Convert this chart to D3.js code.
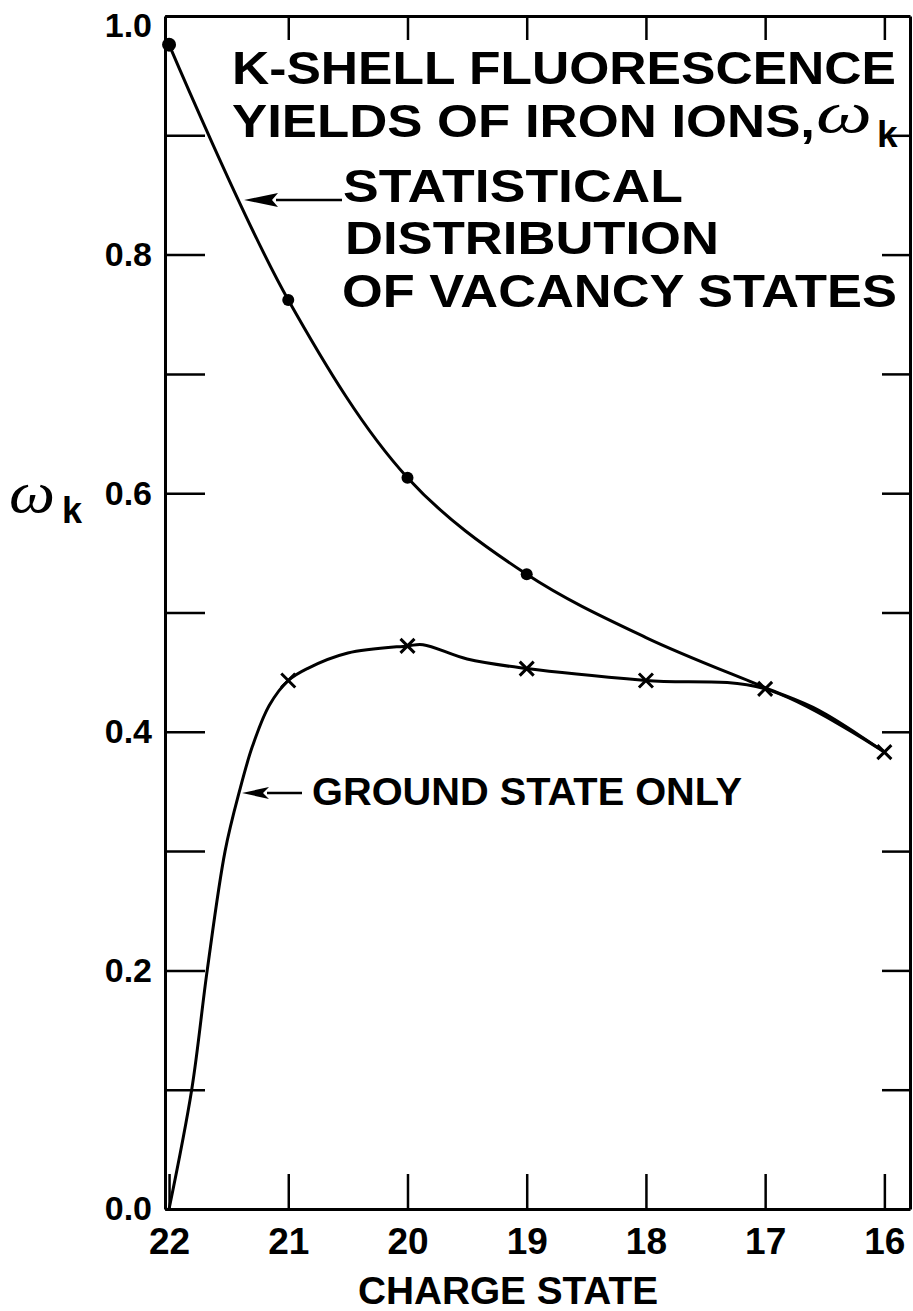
<!DOCTYPE html>
<html>
<head>
<meta charset="utf-8">
<script src="https://cdn.jsdelivr.net/npm/d3@7"></script>
<style>
  html, body { margin: 0; padding: 0; background: #fff; }
  svg { display: block; }
  text { font-family: "Liberation Sans", Arial, Helvetica, sans-serif; font-weight: bold; fill: #000; }
</style>
</head>
<body>
<svg id="chart" width="913" height="1311"></svg>
<script>
// ---- data ----
const charges = [22, 21, 20, 19, 18, 17, 16];
const xTickLabels = ["22", "21", "20", "19", "18", "17", "16"];
const yTicks = [0, 0.1, 0.2, 0.3, 0.4, 0.5, 0.6, 0.7, 0.8, 0.9, 1.0];
const yTickLabels = ["0.0", "", "0.2", "", "0.4", "", "0.6", "", "0.8", "", "1.0"];

// statistical distribution of vacancy states (curve)
const statCurveCharge = [22, 21, 20, 19, 18, 17, 16.55, 16];
const statCurveValue  = [0.976, 0.762, 0.613, 0.532, 0.479, 0.437, 0.418, 0.383];
const statMarkCharge = [22, 21, 20, 19];
const statMarkValue  = [0.976, 0.762, 0.613, 0.532];

// ground state only (curve)
const groundCurveCharge = [22, 21.81, 21.68, 21.53, 21.41, 21.30, 21.16, 21, 20.84, 20.5, 20, 19.87, 19.5, 19, 18, 17, 16];
const groundCurveValue  = [0.0, 0.1, 0.2, 0.3, 0.35, 0.388, 0.422, 0.443, 0.453, 0.466, 0.472, 0.473, 0.461, 0.453, 0.443, 0.436, 0.383];
const groundMarkCharge = [21, 20, 19, 18, 17, 16];
const groundMarkValue  = [0.443, 0.472, 0.453, 0.443, 0.436, 0.383];

// ---- layout ----
const svg = d3.select("#chart");
const L = 165, R = 910, T = 16, B = 1209;
const x = d3.scaleLinear().domain([22.034, 15.785]).range([L, R]);
const y = d3.scaleLinear().domain([0, 1]).range([B, T]);

function styleAxis(g, sw) {
  g.selectAll("path.domain").attr("stroke", "#000").attr("stroke-width", 3);
  g.selectAll(".tick line").attr("stroke", "#000").attr("stroke-width", sw);
}

// left axis
const gL = svg.append("g").attr("transform", `translate(${L},0)`)
  .call(d3.axisLeft(y).tickValues(yTicks).tickSizeInner(-40).tickSizeOuter(0).tickPadding(13)
    .tickFormat((d, i) => yTickLabels[i]));
styleAxis(gL, 2.5);
gL.selectAll(".tick text").style("font-size", "34px").attr("font-family", null).attr("fill", "#000");
gL.selectAll(".tick text").filter(d => d === 1).attr("dy", "0.6em");

// right axis
const gR = svg.append("g").attr("transform", `translate(${R},0)`)
  .call(d3.axisRight(y).tickValues(yTicks.slice(1, 10)).tickSizeInner(-28).tickSizeOuter(0).tickFormat(""));
styleAxis(gR, 2.5);

// bottom axis
const gB = svg.append("g").attr("transform", `translate(0,${B})`)
  .call(d3.axisBottom(x).tickValues(charges).tickSizeInner(-35).tickSizeOuter(0).tickPadding(19)
    .tickFormat((d, i) => xTickLabels[i]));
styleAxis(gB, 2.5);
gB.selectAll(".tick text").style("font-size", "37px").attr("font-family", null).attr("fill", "#000");

// top axis
const gT = svg.append("g").attr("transform", `translate(0,${T})`)
  .call(d3.axisTop(x).tickValues(charges.slice(1)).tickSizeInner(-24).tickSizeOuter(0).tickFormat(""));
styleAxis(gT, 2.5);

// ---- curves ----
const line = d3.line().x(d => x(d[0])).y(d => y(d[1])).curve(d3.curveCatmullRom.alpha(0.5));
const statData = statCurveCharge.map((c, i) => [c, statCurveValue[i]]);
const groundData = groundCurveCharge.map((c, i) => [c, groundCurveValue[i]]);

svg.append("path").attr("d", line(statData)).attr("fill", "none").attr("stroke", "#000").attr("stroke-width", 3);
svg.append("path").attr("d", line(groundData)).attr("fill", "none").attr("stroke", "#000").attr("stroke-width", 3);

// dots
svg.selectAll("circle.stat").data(statMarkCharge).enter().append("circle")
  .attr("cx", d => x(d)).attr("cy", (d, i) => y(statMarkValue[i]))
  .attr("r", (d, i) => i === 0 ? 7 : 6).attr("fill", "#000");

// crosses
const cs = 7;
const crosses = svg.selectAll("g.cross").data(groundMarkCharge).enter().append("g")
  .attr("transform", (d, i) => `translate(${x(d)},${y(groundMarkValue[i])})`);
crosses.append("path").attr("d", `M${-cs},${-cs}L${cs},${cs}M${-cs},${cs}L${cs},${-cs}`)
  .attr("stroke", "#000").attr("stroke-width", 3).attr("fill", "none");

// ---- annotations ----
function arrow(x1, x2, yy, headLen, headHalf) {
  svg.append("line").attr("x1", x1).attr("x2", x2 + headLen - 2).attr("y1", yy).attr("y2", yy)
    .attr("stroke", "#000").attr("stroke-width", 2.5);
  svg.append("path").attr("d", `M${x2},${yy}L${x2 + headLen},${yy - headHalf}L${x2 + headLen - 6},${yy}L${x2 + headLen},${yy + headHalf}Z`)
    .attr("fill", "#000");
}

// title
svg.append("text").attr("x", 232).attr("y", 84).style("font-size", "47px")
  .attr("textLength", 664).attr("lengthAdjust", "spacingAndGlyphs").text("K-SHELL FLUORESCENCE");
svg.append("text").attr("x", 232).attr("y", 137).style("font-size", "47px")
  .attr("textLength", 583).attr("lengthAdjust", "spacingAndGlyphs").text("YIELDS OF IRON IONS,");
svg.append("text").attr("x", 816).attr("y", 132).style("font-size", "60px")
  .style("font-family", "'Liberation Serif', serif").style("font-style", "italic").style("font-weight", "normal")
  .attr("textLength", 56).attr("lengthAdjust", "spacingAndGlyphs")
  .text("ω");
svg.append("text").attr("x", 877).attr("y", 147).style("font-size", "37px").text("k");

// statistical label
svg.append("text").attr("x", 343).attr("y", 202).style("font-size", "47px")
  .attr("textLength", 340).attr("lengthAdjust", "spacingAndGlyphs").text("STATISTICAL");
svg.append("text").attr("x", 345).attr("y", 254).style("font-size", "47px")
  .attr("textLength", 374).attr("lengthAdjust", "spacingAndGlyphs").text("DISTRIBUTION");
svg.append("text").attr("x", 342).attr("y", 307).style("font-size", "47px")
  .attr("textLength", 555).attr("lengthAdjust", "spacingAndGlyphs").text("OF VACANCY STATES");
arrow(342, 244, 200, 34, 7);

// ground state label
svg.append("text").attr("x", 312).attr("y", 805).style("font-size", "39px")
  .attr("textLength", 430).attr("lengthAdjust", "spacingAndGlyphs").text("GROUND STATE ONLY");
arrow(302, 242, 793, 27, 6);

// y axis label
svg.append("text").attr("x", 9).attr("y", 512).style("font-size", "60px")
  .style("font-family", "'Liberation Serif', serif").style("font-style", "italic").style("font-weight", "normal")
  .attr("textLength", 46).attr("lengthAdjust", "spacingAndGlyphs")
  .text("ω");
svg.append("text").attr("x", 62).attr("y", 523).style("font-size", "36px").text("k");

// x axis label
svg.append("text").attr("x", 358).attr("y", 1304).style("font-size", "39px")
  .attr("textLength", 300).attr("lengthAdjust", "spacingAndGlyphs").text("CHARGE STATE");
</script>
</body>
</html>
